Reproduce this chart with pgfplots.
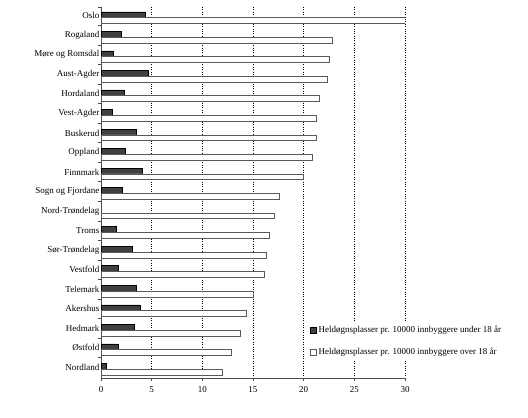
\documentclass[border=0pt]{standalone}
\usepackage{fontspec}
\setmainfont{Liberation Serif}
\usepackage{pgfplots}
\pgfplotsset{compat=1.18}
\begin{document}
\fontsize{9bp}{11bp}\selectfont
\begin{tikzpicture}
\useasboundingbox (0,0) rectangle (528bp,418bp);
\begin{axis}[
  at={(101bp,40bp)}, anchor=south west,
  scale only axis, width=304bp, height=371bp,
  xmin=0, xmax=30, ymin=-0.45, ymax=18.55, y dir=reverse,
  axis x line*=bottom, axis y line*=left,
  axis line style={-, black!70, line width=0.8pt},
  xtick={0,5,...,30},
  xmajorgrids, grid style={dotted, black, line width=0.7pt},
  ytick={0,...,18},
  yticklabels={Oslo, Rogaland, Møre og Romsdal, Aust-Agder, Hordaland, Vest-Agder, Buskerud, Oppland, Finnmark, Sogn og Fjordane, Nord-Trøndelag, Troms, Sør-Trøndelag, Vestfold, Telemark, Akershus, Hedmark, Østfold, Nordland},
  major tick length=0pt, minor tick length=3bp, tick align=outside,
  minor xtick={0,5,...,30}, minor ytick={-0.45,0.5,1.5,...,17.5},
  minor tick style={black!70, line width=0.6pt},
  yticklabel style={inner sep=1.5bp, font=\fontsize{9bp}{11bp}\selectfont},
  xticklabel style={yshift=-5bp, font=\fontsize{9bp}{11bp}\selectfont},
  /pgf/number format/assume math mode=true,
  legend style={at={(0.68,0.151)}, anchor=north west, draw=none, fill=white,
    font=\fontsize{9bp}{11bp}\selectfont, row sep=10bp, inner sep=2bp},
  legend cell align=left,
  legend image code/.code={\draw[#1] (0bp,-3bp) rectangle (6bp,3bp);},
]
\addplot[xbar, bar width=0.3, bar shift=0pt, fill=black!75, draw=black, line width=0.5pt]
  coordinates {(4.4,-0.05) (2.0,0.95) (1.2,1.95) (4.7,2.95) (2.3,3.95) (1.15,4.95)
  (3.45,5.95) (2.4,6.95) (4.1,7.95) (2.1,8.95) (1.55,10.95) (3.1,11.95)
  (1.7,12.95) (3.45,13.95) (3.85,14.95) (3.25,15.95) (1.7,16.95) (0.55,17.95)};
\addlegendentry{Heldøgnsplasser pr. 10000 innbyggere under 18 år}
\addplot[xbar, bar width=0.3, bar shift=0pt, fill=white, draw=black!65, line width=0.8pt]
  coordinates {(30.0,0.25) (22.8,1.25) (22.5,2.25) (22.3,3.25) (21.55,4.25) (21.3,5.25)
  (21.3,6.25) (20.9,7.25) (20.0,8.25) (17.6,9.25) (17.1,10.25) (16.65,11.25)
  (16.35,12.25) (16.15,13.25) (15.0,14.25) (14.3,15.25) (13.8,16.25) (12.9,17.25)
  (12.0,18.25)};
\addlegendentry{Heldøgnsplasser pr. 10000 innbyggere over 18 år}
\end{axis}
\end{tikzpicture}
\end{document}
